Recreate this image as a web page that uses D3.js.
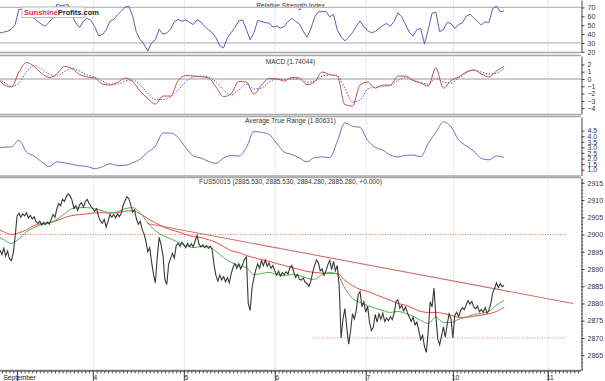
<!DOCTYPE html>
<html>
<head>
<meta charset="utf-8">
<script src="https://cdn.jsdelivr.net/npm/d3@7"></script>
<style>
body { margin: 0; background: #fff; }
svg { display: block; font-family: "Liberation Sans", Arial, sans-serif; }
</style>
</head>
<body>
<div id="chart"></div>
<script>
// ---- data (time in hours, 0 = start of Sept 3 session) ----
const dayTicks = [0, 20, 44, 68, 92, 115, 140];
const dayLabels = ['September', '4', '5', '6', '7', '10', '11'];

// closes sampled every half hour
const priceStart = -4.5, priceStep = 0.5;
const price = [
  2895.5, 2894.2, 2896.0, 2893.8, 2895.2, 2893.0, 2892.4, 2894.6, 2899.5, 2905.3,
  2906.2, 2905.0, 2906.0, 2905.4, 2906.3, 2904.8, 2905.6, 2904.5, 2905.2, 2903.8,
  2903.2, 2903.9, 2902.8, 2903.5, 2902.9, 2903.6, 2903.0, 2904.4, 2905.8, 2905.0,
  2907.5, 2909.0, 2908.4, 2910.2, 2909.6, 2911.0, 2911.8, 2911.2, 2910.0, 2907.6,
  2908.4, 2907.0, 2908.6, 2909.2, 2908.0, 2909.5, 2910.2, 2909.0, 2908.2, 2907.4,
  2906.8, 2907.5, 2905.2, 2904.0, 2903.2, 2904.4, 2902.2, 2903.8, 2905.8, 2905.0,
  2905.8, 2904.8, 2906.0, 2905.2, 2906.2, 2908.5, 2909.8, 2911.0, 2910.4, 2908.6,
  2906.5, 2907.2, 2904.5, 2903.0, 2903.8, 2901.5, 2900.2, 2898.0, 2895.0, 2896.2,
  2892.0, 2888.5, 2886.0, 2893.5, 2899.2, 2897.0, 2894.0, 2887.0, 2885.5, 2891.5,
  2893.0, 2894.5, 2893.2, 2896.8, 2897.5, 2896.6, 2897.8, 2897.0, 2896.2, 2897.4,
  2896.5, 2897.3, 2896.4, 2898.2, 2899.8, 2897.2, 2896.4, 2897.0, 2896.2, 2896.8,
  2896.0, 2896.6, 2895.5, 2891.0, 2888.0, 2886.5, 2888.2, 2886.8, 2887.8, 2886.3,
  2887.5, 2886.0, 2888.6, 2890.5, 2891.6, 2890.2, 2891.5, 2890.0, 2891.2, 2892.8,
  2893.5, 2880.0, 2878.0, 2884.5, 2887.5, 2889.8, 2891.5, 2890.2, 2892.4, 2891.0,
  2892.6, 2890.8, 2891.8, 2890.2, 2891.0, 2889.5, 2888.2, 2889.4, 2888.0, 2889.0,
  2888.4, 2889.2, 2888.6, 2890.5, 2891.0, 2889.2, 2887.6, 2888.4, 2887.0, 2886.8,
  2887.4, 2886.2, 2885.8, 2885.0, 2886.4, 2889.0, 2891.0, 2892.6, 2891.8, 2889.5,
  2890.0, 2888.2, 2889.4, 2891.2, 2892.5, 2889.8, 2892.2, 2889.5, 2891.0, 2885.0,
  2870.0, 2875.5, 2878.5, 2873.0, 2868.2, 2872.0, 2877.0, 2875.5, 2878.0, 2882.5,
  2883.5, 2879.0, 2880.5, 2877.5, 2879.2, 2874.5, 2872.2, 2873.0, 2876.8, 2874.6,
  2877.0, 2875.4, 2877.2, 2874.8, 2875.8, 2875.0, 2876.2, 2875.3, 2877.2, 2880.6,
  2881.0, 2878.6, 2879.5, 2877.8, 2879.0, 2877.3, 2876.0, 2874.8, 2876.0, 2873.8,
  2874.6, 2872.2, 2869.5, 2870.8, 2867.5, 2865.8, 2872.0, 2880.5, 2879.0, 2884.5,
  2876.5, 2869.8, 2868.0, 2870.5, 2873.2, 2870.2, 2874.0, 2877.0, 2875.5, 2870.0,
  2876.6, 2877.5, 2876.2, 2877.8, 2878.8, 2878.2, 2879.6, 2880.8, 2879.8, 2880.6,
  2879.0, 2878.4, 2879.2, 2877.6, 2878.3, 2877.5, 2878.8, 2877.2, 2878.0, 2880.0,
  2883.0, 2884.4, 2886.0, 2884.6, 2885.8, 2884.9, 2885.3
];

// moving averages, MACD, ATR sampled every 2 hours
const slowStart = -5.5, slowStep = 2;
const maSlow = [
  2901.7, 2900.8, 2900.0, 2900.5, 2901.4, 2902.6, 2903.2, 2903.4, 2904.0, 2904.9,
  2905.5, 2905.8, 2906.0, 2906.3, 2906.3, 2906.2, 2906.3, 2906.8, 2906.9, 2906.0,
  2904.6, 2903.4, 2902.3, 2901.4, 2900.8, 2900.0, 2899.4, 2899.1, 2898.5, 2897.7,
  2896.5, 2895.3, 2894.8, 2893.9, 2893.3, 2892.7, 2892.2, 2891.6, 2891.0, 2890.4,
  2889.9, 2889.3, 2889.0, 2888.8, 2888.7, 2888.7, 2886.7, 2885.2, 2884.1, 2883.5,
  2882.6, 2881.8, 2880.9, 2880.0, 2879.5, 2878.6, 2877.7, 2877.4, 2877.4, 2877.1,
  2876.6, 2876.0, 2876.0, 2876.3, 2876.6, 2877.0, 2877.7, 2878.9
];
const maFast = [
  2899.7, 2898.5, 2897.4, 2898.8, 2900.8, 2902.0, 2902.9, 2903.4, 2904.3, 2906.0,
  2907.5, 2907.8, 2907.8, 2907.5, 2906.9, 2906.3, 2906.6, 2907.5, 2907.8, 2906.3,
  2903.4, 2901.1, 2899.7, 2898.8, 2897.7, 2896.8, 2896.2, 2896.5, 2896.5, 2895.1,
  2893.3, 2891.9, 2891.0, 2890.4, 2888.4, 2888.7, 2889.0, 2888.4, 2888.1, 2888.4,
  2888.1, 2887.3, 2887.0, 2888.4, 2889.0, 2888.4, 2884.4, 2881.5, 2880.3, 2879.4,
  2878.6, 2878.0, 2877.4, 2877.7, 2877.1, 2876.3, 2875.1, 2874.2, 2876.0, 2874.5,
  2874.5, 2875.4, 2876.0, 2876.8, 2877.1, 2877.7, 2879.5, 2880.9
];
const macd = [
  0.55, -0.76, -1.10, 0.96, 2.27, 1.72, 0.76, 0.21, 0.69, 1.72,
  1.44, 0.62, 0.28, 0.14, -0.69, -0.83, -0.48, 0.14, -0.34, -1.65,
  -2.68, -3.44, -2.34, -2.34, -0.21, 0.48, 0.41, 0.32, 0.14, -1.10,
  -2.41, -1.99, -0.34, -0.41, -2.06, -0.83, 0.07, 0.03, -0.28, 0.21,
  0.14, -0.76, -0.41, 0.96, 0.62, 0.41, -3.51, -3.71, -0.83, -0.41,
  -1.24, -0.83, -0.83, 0.41, 0.41, -0.21, -0.55, -0.96, 1.51, -1.24,
  -0.21, 0.28, 0.96, 1.24, 0.69, 0.28, 1.10, 1.74
];
const macdSignal = [
  0.14, -0.41, -1.03, -0.55, 0.96, 1.86, 1.38, 0.69, 0.41, 1.03,
  1.44, 1.10, 0.55, 0.28, -0.28, -0.69, -0.69, -0.28, -0.14, -0.83,
  -1.93, -2.82, -2.82, -2.48, -1.51, -0.41, 0.28, 0.41, 0.28, -0.41,
  -1.51, -2.20, -1.51, -0.69, -1.38, -1.24, -0.41, 0.0, -0.07, 0.0,
  0.0, -0.41, -0.28, 0.41, 0.55, 0.48, -1.24, -3.16, -2.89, -1.38,
  -1.10, -1.03, -0.89, -0.21, 0.21, -0.14, -0.48, -0.69, 0.07, -0.41,
  -0.55, 0.14, 0.83, 1.24, 0.96, 0.69, 0.83, 1.44
];
const atr = [
  2.93, 3.01, 3.04, 3.63, 2.58, 2.23, 1.70, 1.29, 1.70, 1.61,
  1.48, 1.35, 1.29, 1.09, 1.26, 1.53, 1.38, 1.39, 1.61, 1.96,
  2.58, 3.10, 4.28, 4.28, 3.89, 2.97, 2.23, 2.05, 1.74, 1.57,
  2.05, 2.27, 2.23, 2.97, 4.41, 4.35, 4.15, 3.36, 2.58, 2.36,
  2.05, 1.70, 2.09, 2.14, 2.09, 3.54, 5.20, 4.89, 4.79, 3.63,
  3.01, 2.75, 2.31, 2.14, 2.29, 2.31, 2.16, 3.36, 4.32, 5.29,
  4.85, 3.67, 3.14, 2.66, 2.01, 1.88, 2.23, 2.09
];

// RSI sampled every hour
const rsiStart = -4.5, rsiStep = 1;
const rsi = [
  41.3, 42.2, 43.3, 45.6, 50.8, 68, 67.5, 64.6, 61.2, 57.9,
  54.3, 50.8, 48.9, 53.7, 58.5, 73.8, 72, 72.6, 73.2, 61.2,
  52.5, 47.4, 54.6, 57.7, 55.4, 48.5, 38.2, 39.3, 44.5, 54.3,
  56.6, 61.7, 65.7, 70.3, 71.5, 60, 41.6, 33.6, 28.5, 21.0,
  30.1, 33.6, 45.6, 39.9, 41.3, 45.6, 53.7, 56.6, 54.3, 56.0,
  53.1, 50.8, 56.0, 53.7, 48.5, 45.1, 41.6, 35.9, 26.7, 24.4,
  35.9, 41.6, 47.4, 54.8, 56, 45.1, 33.6, 41.6, 55.4, 54.3,
  52.8, 52.5, 47.9, 48.9, 46.8, 48.5, 54.3, 57.9, 54.3, 51.4,
  43.3, 36.5, 45.6, 58.9, 65.2, 65.2, 65.7, 59.4, 62.3, 44.5,
  37, 32.4, 36.5, 41.6, 48.5, 54.8, 48.5, 43.9, 41.6, 42.8,
  46.2, 49.7, 52, 48.9, 54.3, 64, 59.4, 50.8, 42.2, 37.6,
  45.1, 46.2, 29, 45.1, 63.5, 64.6, 42.8, 45.1, 53.1, 52,
  46.2, 50.8, 52.5, 60, 62.3, 58.3, 54.3, 50.2, 53.7, 53.1,
  68.6, 71.5, 65.2, 66.1
];

// drawn lines
const trendTimes = [34.3, 146.7];
const trendValues = [2903.2, 2880.0];
const levelValues = [2900, 2870];
const levelFrom = [-4.5, 77.8];
const levelTo = [145.1, 144.6];

const rsiTicks = [70, 60, 50, 40, 30, 20];
const rsiBands = [70, 30];
const macdTicks = [2, 1, 0, -1, -2, -3, -4];
const atrTicks = [4.5, 4.0, 3.5, 3.0, 2.5, 2.0, 1.5, 1.0];
const priceTicks = [2915, 2910, 2905, 2900, 2895, 2890, 2885, 2880, 2875, 2870, 2865];

const rsiTitle = 'Relative Strength Index';
const macdTitle = 'MACD (1.74044)';
const atrTitle = 'Average True Range (1.80631)';
const priceTitle = 'FUS50015 (2885.530, 2885.530, 2884.280, 2885.280, +0.000)';

// ---- layout ----
const W = 605, H = 381, plotRight = 581, titleX = 290.5;

const svg = d3.select('#chart').append('svg')
    .attr('width', W)
    .attr('height', H);

const x = d3.scaleLinear().domain([-4.5, 148.8]).range([0, plotRight]);

const toPoints = (values, start, step) => values.map((v, i) => [start + i * step, v]);

function makePanel(id, top, bottom, domain, ticks, fmt, title, titleY) {
    const y = d3.scaleLinear().domain(domain).range([bottom, top]);
    const g = svg.append('g').attr('class', id);

    g.append('clipPath').attr('id', 'clip-' + id)
        .append('rect')
        .attr('x', 0).attr('y', top)
        .attr('width', plotRight).attr('height', bottom - top);

    // day grid
    g.selectAll('.vgrid').data(dayTicks.slice(1)).join('line')
        .attr('x1', d => x(d) + 0.5).attr('x2', d => x(d) + 0.5)
        .attr('y1', top).attr('y2', bottom)
        .attr('stroke', '#d6d6d6')
        .attr('stroke-dasharray', '1,1');

    // borders
    g.append('line')
        .attr('x1', 0).attr('x2', plotRight)
        .attr('y1', bottom + 0.5).attr('y2', bottom + 0.5)
        .attr('stroke', '#a6a6a6').attr('stroke-width', 1.5);
    if (top > 5) {
        g.append('line')
            .attr('x1', 0).attr('x2', plotRight)
            .attr('y1', top - 0.5).attr('y2', top - 0.5)
            .attr('stroke', '#a6a6a6').attr('stroke-width', 1.5);
    }

    // right axis
    const axis = g.append('g')
        .attr('transform', `translate(${plotRight + 0.5},0)`)
        .call(d3.axisRight(y).tickValues(ticks).tickSize(3).tickSizeOuter(0)
            .tickPadding(3).tickFormat(fmt));
    axis.select('.domain').attr('stroke', '#444');
    axis.selectAll('line').attr('stroke', '#444');
    axis.selectAll('text').attr('font-size', 7).attr('fill', '#333')
        .attr('font-family', '"Liberation Sans", Arial, sans-serif');

    g.append('text')
        .attr('x', titleX).attr('y', titleY)
        .attr('text-anchor', 'middle')
        .attr('font-size', 6.6)
        .attr('fill', '#333')
        .text(title);

    const plot = g.append('g').attr('clip-path', `url(#clip-${id})`);
    return { y, g, plot, axis };
}

// ---- RSI ----
const rsiPanel = makePanel('rsi', 0, 52, [19.8, 78.4], rsiTicks, d3.format('d'), rsiTitle, 7.5);
rsiPanel.plot.selectAll('.band').data(rsiBands).join('line')
    .attr('x1', 0).attr('x2', plotRight)
    .attr('y1', d => rsiPanel.y(d)).attr('y2', d => rsiPanel.y(d))
    .attr('stroke', '#b8b8b8').attr('stroke-width', 1.2);
rsiPanel.plot.append('path')
    .datum(toPoints(rsi, rsiStart, rsiStep))
    .attr('fill', 'none')
    .attr('stroke', '#4b4bb0')
    .attr('stroke-width', 0.9)
    .attr('d', d3.line().x(d => x(d[0])).y(d => rsiPanel.y(d[1])));

// logo
const logo = svg.append('g').attr('transform', 'translate(22,7)');
logo.append('rect').attr('width', 63).attr('height', 10.5)
    .attr('fill', '#fff').attr('stroke', '#bbb');
const logoText = logo.append('text').attr('x', 2).attr('y', 8)
    .attr('font-size', 7.5).attr('font-weight', 'bold');
logoText.append('tspan').attr('fill', '#d8323c').text('Sunshine');
logoText.append('tspan').attr('fill', '#222').text('Profits.com');

// ---- MACD ----
const macdPanel = makePanel('macd', 56, 114, [-4.8, 3.16], macdTicks, d3.format('d'), macdTitle, 64);
macdPanel.plot.append('line')
    .attr('x1', 0).attr('x2', plotRight)
    .attr('y1', macdPanel.y(0)).attr('y2', macdPanel.y(0))
    .attr('stroke', '#9a9a9a');
macdPanel.plot.append('path')
    .datum(toPoints(macdSignal, slowStart, slowStep))
    .attr('fill', 'none')
    .attr('stroke', '#5a5ae6')
    .attr('stroke-dasharray', '1.5,1.5')
    .attr('d', d3.line().curve(d3.curveMonotoneX).x(d => x(d[0])).y(d => macdPanel.y(d[1])));
macdPanel.plot.append('path')
    .datum(toPoints(macd, slowStart, slowStep))
    .attr('fill', 'none')
    .attr('stroke', '#c0504d')
    .attr('stroke-width', 1)
    .attr('d', d3.line().curve(d3.curveMonotoneX).x(d => x(d[0])).y(d => macdPanel.y(d[1])));

// ---- ATR ----
const atrPanel = makePanel('atr', 117, 175.5, [0.48, 5.72], atrTicks, d3.format('.1f'), atrTitle, 122.5);
atrPanel.plot.append('path')
    .datum(toPoints(atr, slowStart, slowStep))
    .attr('fill', 'none')
    .attr('stroke', '#6f6fc4')
    .attr('stroke-width', 1)
    .attr('d', d3.line().curve(d3.curveMonotoneX).x(d => x(d[0])).y(d => atrPanel.y(d[1])));

// ---- price ----
const pricePanel = makePanel('price', 178, 370, [2860.7, 2916.4], priceTicks, d3.format('d'), priceTitle, 183.5);
const py = pricePanel.y;

// minor ticks on the price axis
pricePanel.g.append('g')
    .attr('transform', `translate(${plotRight + 0.5},0)`)
    .call(d3.axisRight(py).tickValues(d3.range(2861, 2917)).tickSize(1.5).tickSizeOuter(0).tickFormat(''))
    .call(a => a.select('.domain').remove())
    .selectAll('line').attr('stroke', '#444');

pricePanel.plot.selectAll('.level').data(levelValues).join('line')
    .attr('x1', (d, i) => x(levelFrom[i])).attr('x2', (d, i) => x(levelTo[i]))
    .attr('y1', d => py(d)).attr('y2', d => py(d))
    .attr('stroke', '#d9864e')
    .attr('stroke-dasharray', '1,1.5');

pricePanel.plot.append('line')
    .attr('x1', x(trendTimes[0])).attr('x2', x(trendTimes[1]))
    .attr('y1', py(trendValues[0])).attr('y2', py(trendValues[1]))
    .attr('stroke', '#d2706a')
    .attr('stroke-width', 1.1);

const maLine = d3.line().curve(d3.curveMonotoneX).x(d => x(d[0])).y(d => py(d[1]));
pricePanel.plot.append('path')
    .datum(toPoints(maSlow, slowStart, slowStep))
    .attr('fill', 'none').attr('stroke', '#f24a4a').attr('stroke-width', 1)
    .attr('d', maLine);
pricePanel.plot.append('path')
    .datum(toPoints(maFast, slowStart, slowStep))
    .attr('fill', 'none').attr('stroke', '#4fae4f').attr('stroke-width', 1)
    .attr('d', maLine);

pricePanel.plot.append('path')
    .datum(toPoints(price, priceStart, priceStep))
    .attr('fill', 'none')
    .attr('stroke', '#383838')
    .attr('stroke-width', 1.1)
    .attr('d', d3.line().x(d => x(d[0])).y(d => py(d[1])));

// ---- time axis ----
const xAxis = svg.append('g').attr('transform', 'translate(0,370.5)');
xAxis.call(d3.axisBottom(x).tickValues(d3.range(-4, 149)).tickSize(3).tickSizeOuter(0).tickFormat(''));
xAxis.select('.domain').attr('stroke', '#444');
xAxis.selectAll('line').attr('stroke', '#555');

xAxis.selectAll('.day').data(dayTicks).join('line')
    .attr('x1', d => x(d) + 0.5).attr('x2', d => x(d) + 0.5)
    .attr('y1', 0).attr('y2', 11)
    .attr('stroke', '#444');
xAxis.selectAll('.dayLabel').data(dayLabels).join('text')
    .attr('x', (d, i) => x(dayTicks[i]) + 2.5)
    .attr('y', 9)
    .attr('font-size', 6.6)
    .attr('fill', '#222')
    .text(d => d);
</script>
</body>
</html>
